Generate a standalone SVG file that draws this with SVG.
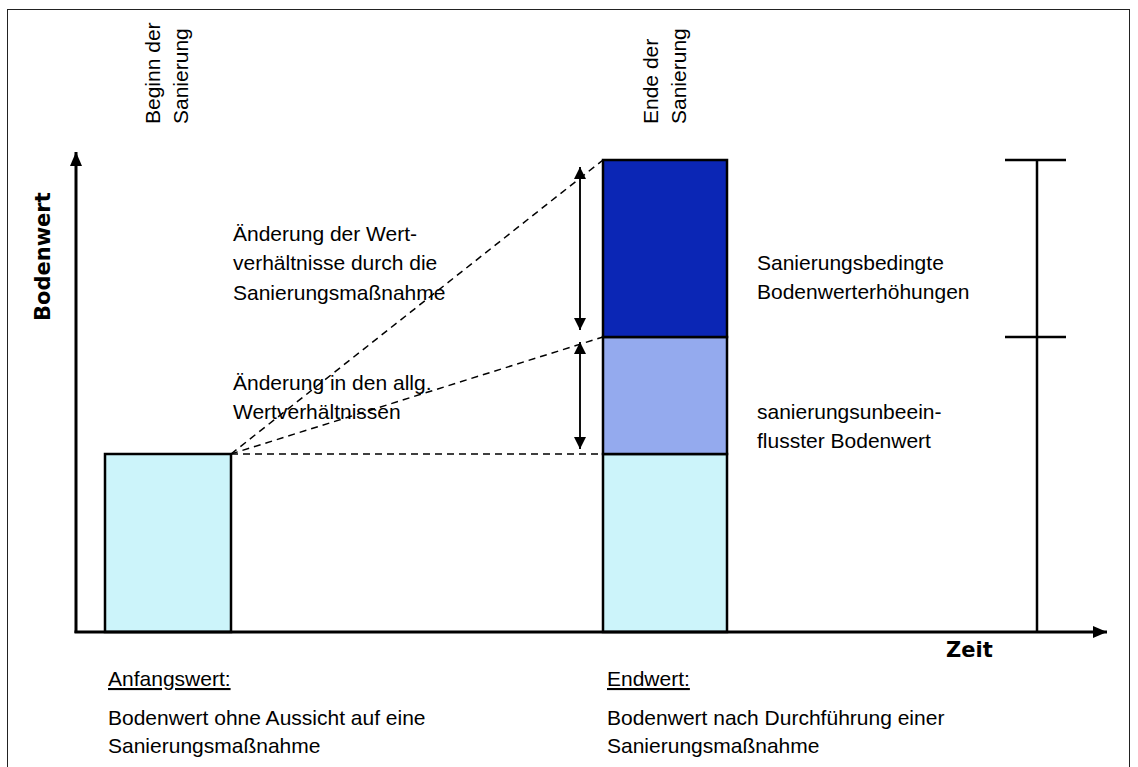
<svg xmlns="http://www.w3.org/2000/svg" width="1138" height="767" viewBox="0 0 1138 767">
<style>
.t{font-family:"Liberation Sans",Arial,sans-serif;font-size:21px;fill:#000}
.b{font-family:"DejaVu Sans",Verdana,sans-serif;font-size:21px;font-weight:bold;fill:#000}
.bar{stroke:#000;stroke-width:2.5}
.dash{stroke:#000;stroke-width:1.5;stroke-dasharray:7,5;fill:none}
.ln{stroke:#000;stroke-width:1.5;fill:none}
.ax{stroke:#000;stroke-width:3;fill:none}
.br{stroke:#000;stroke-width:2.5;fill:none}
</style>
<defs>
<marker id="ah" viewBox="0 0 10 10" refX="10" refY="5" markerWidth="12" markerHeight="12" markerUnits="userSpaceOnUse" orient="auto"><path d="M0,0 L10,5 L0,10 Z" fill="#000"/></marker>
<marker id="axh" viewBox="0 0 10 10" refX="10" refY="5" markerWidth="14" markerHeight="12" markerUnits="userSpaceOnUse" orient="auto" preserveAspectRatio="none"><path d="M0,0 L10,5 L0,10 Z" fill="#000"/></marker>
</defs>
<rect x="7.5" y="9.5" width="1122" height="780" fill="#fff" stroke="#222" stroke-width="1"/>

<g id="bar-anfang">
<rect class="bar" x="105" y="454" width="126" height="178" fill="#CCF4FA"/>
</g>
<g id="bar-end">
<rect class="bar" x="603" y="454" width="124" height="178" fill="#CCF4FA"/>
<rect class="bar" x="603" y="337" width="124" height="117" fill="#94AAEE"/>
<rect class="bar" x="603" y="160" width="124" height="177" fill="#0B26B5"/>
</g>

<g id="connectors">
<line class="dash" x1="231" y1="454" x2="603" y2="160"/>
<line class="dash" x1="231" y1="454" x2="603" y2="337"/>
<line class="dash" x1="231" y1="454" x2="603" y2="454"/>
<line class="ln" x1="580" y1="330" x2="580" y2="167" marker-end="url(#ah)"/>
<line class="ln" x1="580" y1="167" x2="580" y2="330" marker-end="url(#ah)"/>
<line class="ln" x1="580" y1="449" x2="580" y2="342" marker-end="url(#ah)"/>
<line class="ln" x1="580" y1="342" x2="580" y2="449" marker-end="url(#ah)"/>
</g>

<g id="axes">
<line class="ax" x1="76" y1="633" x2="76" y2="152" marker-end="url(#axh)"/>
<line class="ax" x1="74.5" y1="632" x2="1107" y2="632" marker-end="url(#axh)"/>
<text class="b" transform="translate(50,321) rotate(-90)">Bodenwert</text>
<text class="b" x="946" y="657">Zeit</text>
</g>

<g id="bracket">
<line class="br" x1="1037" y1="160" x2="1037" y2="632"/>
<line class="br" x1="1005" y1="160" x2="1066" y2="160"/>
<line class="br" x1="1005" y1="337" x2="1066" y2="337"/>
</g>

<g id="label-beginn">
<text class="t" transform="translate(160,124) rotate(-90)">Beginn der</text>
<text class="t" transform="translate(188,124) rotate(-90)">Sanierung</text>
</g>
<g id="label-ende">
<text class="t" transform="translate(658,124) rotate(-90)">Ende der</text>
<text class="t" transform="translate(686,124) rotate(-90)">Sanierung</text>
</g>

<g id="label-aenderung-wert">
<text class="t" x="233" y="241">Änderung der Wert-</text>
<text class="t" x="233" y="270">verhältnisse durch die</text>
<text class="t" x="233" y="300">Sanierungsmaßnahme</text>
</g>
<g id="label-aenderung-allg">
<text class="t" x="233" y="390">Änderung in den allg.</text>
<text class="t" x="233" y="419">Wertverhältnissen</text>
</g>

<g id="label-bedingt">
<text class="t" x="757" y="270">Sanierungsbedingte</text>
<text class="t" x="757" y="299">Bodenwerterhöhungen</text>
</g>
<g id="label-unbeeinflusst">
<text class="t" x="757" y="419">sanierungsunbeein-</text>
<text class="t" x="757" y="448">flusster Bodenwert</text>
</g>

<g id="label-anfangswert">
<text class="t" x="108" y="686" text-decoration="underline">Anfangswert:</text>
<text class="t" x="108" y="725">Bodenwert ohne Aussicht auf eine</text>
<text class="t" x="108" y="753">Sanierungsmaßnahme</text>
</g>
<g id="label-endwert">
<text class="t" x="607" y="686" text-decoration="underline">Endwert:</text>
<text class="t" x="607" y="725">Bodenwert nach Durchführung einer</text>
<text class="t" x="607" y="753">Sanierungsmaßnahme</text>
</g>
</svg>
